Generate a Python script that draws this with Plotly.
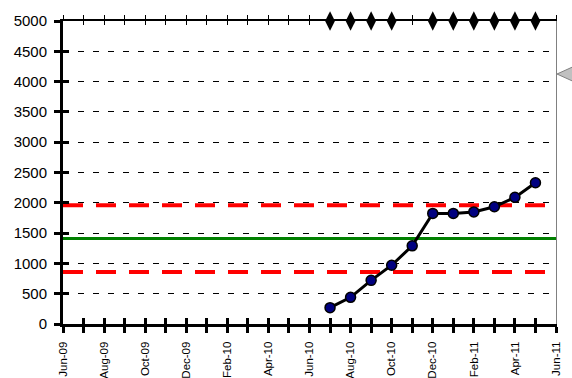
import plotly.graph_objects as go

# ---- data ----
months = ["Jun-09", "Jul-09", "Aug-09", "Sep-09", "Oct-09", "Nov-09", "Dec-09",
          "Jan-10", "Feb-10", "Mar-10", "Apr-10", "May-10", "Jun-10", "Jul-10",
          "Aug-10", "Sep-10", "Oct-10", "Nov-10", "Dec-10", "Jan-11", "Feb-11",
          "Mar-11", "Apr-11", "May-11", "Jun-11"]
tick_labels = [m if i % 2 == 0 else "" for i, m in enumerate(months)]

data_months = ["Jul-10", "Aug-10", "Sep-10", "Oct-10", "Nov-10", "Dec-10",
               "Jan-11", "Feb-11", "Mar-11", "Apr-11", "May-11"]
data_values = [270, 440, 720, 970, 1290, 1825, 1825, 1850, 1935, 2090, 2330]

flag_months = ["Jul-10", "Aug-10", "Sep-10", "Oct-10", "Dec-10", "Jan-11",
               "Feb-11", "Mar-11", "Apr-11", "May-11"]
flag_values = [5000] * len(flag_months)

upper_limit = 1960
centre_line = 1410
lower_limit = 860

# ---- figure ----
idx = {m: i for i, m in enumerate(months)}
x_full = [0, len(months) - 1]

fig = go.Figure()
# dummy traces so that the overlay axes get drawn
for xa, ya in [("x2", "y"), ("x3", "y"), ("x4", "y"), ("x", "y2"), ("x", "y3")]:
    fig.add_trace(go.Scatter(x=[None], y=[None], xaxis=xa, yaxis=ya,
                             mode="markers", hoverinfo="skip", showlegend=False))

fig.add_trace(go.Scatter(x=x_full, y=[upper_limit] * 2, mode="lines",
                         line=dict(color="#ff0000", width=4, dash="20px,13px"),
                         hoverinfo="skip"))
fig.add_trace(go.Scatter(x=x_full, y=[lower_limit] * 2, mode="lines",
                         line=dict(color="#ff0000", width=4, dash="20px,13px"),
                         hoverinfo="skip"))
fig.add_trace(go.Scatter(x=x_full, y=[centre_line] * 2, mode="lines",
                         line=dict(color="#008000", width=3), hoverinfo="skip"))
fig.add_trace(go.Scatter(x=[idx[m] for m in data_months], y=data_values,
                         mode="lines+markers",
                         line=dict(color="black", width=3),
                         marker=dict(symbol="circle", size=10, color="#000080",
                                     line=dict(color="black", width=1.5))))
fig.add_trace(go.Scatter(x=[idx[m] for m in flag_months], y=flag_values,
                         mode="markers", cliponaxis=False,
                         marker=dict(symbol="diamond-tall", size=14, color="black")))

common_x = dict(range=x_full, tickvals=list(range(len(months))), showgrid=False,
                zeroline=False, fixedrange=True, automargin=False)
font_y = dict(family="Liberation Sans, Arial, sans-serif", size=15, color="black")
font_x = dict(family="Liberation Sans, Arial, sans-serif", size=11.5, color="black")

fig.update_layout(
    width=572, height=378,
    margin=dict(l=63, r=16, t=21, b=54, autoexpand=False),
    paper_bgcolor="white", plot_bgcolor="white",
    showlegend=False,
    xaxis=dict(**common_x, ticktext=tick_labels, ticks="outside", ticklen=6,
               tickwidth=3, tickcolor="black", showline=True, linewidth=3,
               linecolor="black", tickangle=-90, tickfont=font_x, anchor="y",
               ticklabelstandoff=4),
    xaxis3=dict(**common_x, overlaying="x", anchor="y", ticks="inside", ticklen=6,
                tickwidth=3, tickcolor="black", showticklabels=False, showline=False),
    xaxis2=dict(**common_x, overlaying="x", side="top", anchor="y", ticks="outside",
                ticklen=4, tickwidth=1, tickcolor="black", showticklabels=False,
                showline=True, linewidth=2, linecolor="black"),
    xaxis4=dict(**common_x, overlaying="x", side="top", anchor="y", ticks="inside",
                ticklen=4, tickwidth=1, tickcolor="black", showticklabels=False),
    yaxis=dict(range=[0, 5000], tick0=0, dtick=500, ticks="outside", ticklen=6,
               tickwidth=3, tickcolor="black", showline=True, linewidth=3,
               linecolor="black", showgrid=True, gridcolor="black", gridwidth=1,
               griddash="6px,9px", zeroline=False, tickfont=font_y,
               ticklabelstandoff=4, fixedrange=True, automargin=False),
    yaxis2=dict(range=[0, 5000], tick0=0, dtick=500, overlaying="y", anchor="x",
                ticks="inside", ticklen=6, tickwidth=3, tickcolor="black",
                showticklabels=False, showgrid=False, zeroline=False,
                automargin=False, fixedrange=True),
    yaxis3=dict(range=[0, 5000], overlaying="y", side="right", anchor="x",
                showline=True, linewidth=1, linecolor="#808080", ticks="",
                showticklabels=False, showgrid=False, zeroline=False,
                automargin=False, fixedrange=True),
    shapes=[dict(type="path", xref="paper", yref="paper",
                 path="M 1.002,0.825 L 1.04,0.853 L 1.04,0.797 Z",
                 fillcolor="#c0c0c0", line=dict(color="#808080", width=1))],
)

fig.write_html(
    "out.html",
    config={"displayModeBar": False, "staticPlot": True},
    post_script="document.body.style.margin='0';document.body.style.overflow='hidden';",
)
